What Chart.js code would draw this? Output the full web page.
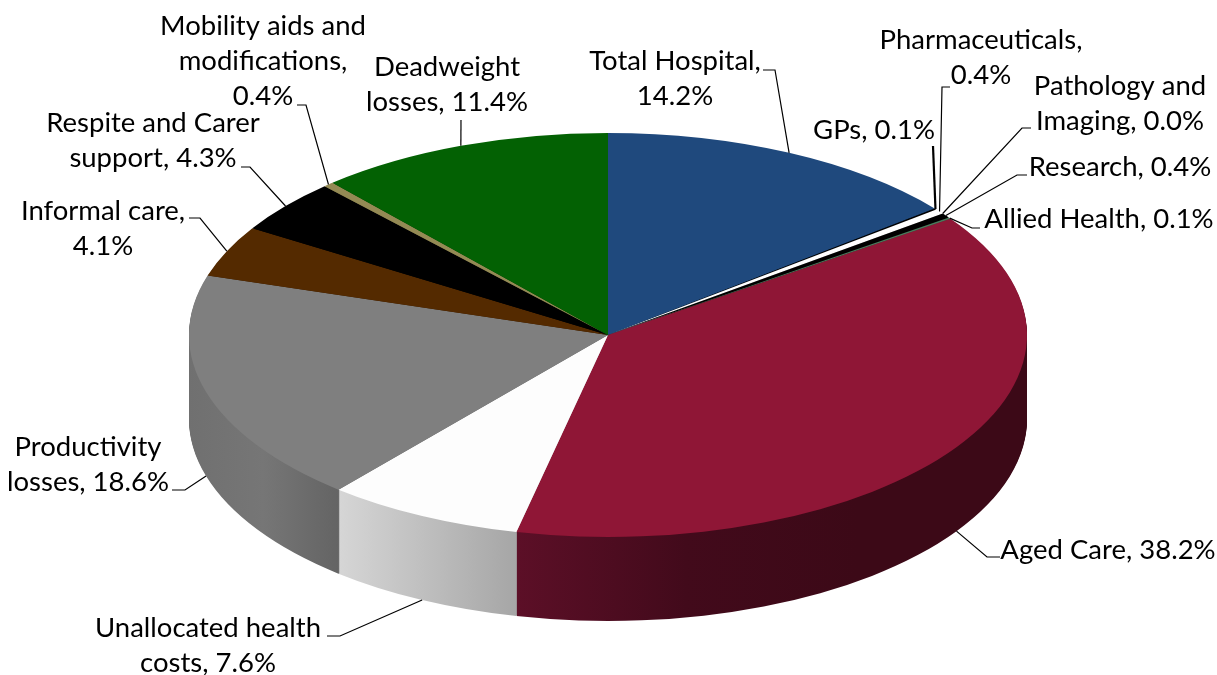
<!DOCTYPE html>
<html>
<head>
<meta charset="utf-8">
<style>
  html, body { margin: 0; padding: 0; background: #fff; }
  #wrap { width: 1217px; height: 675px; }
</style>
</head>
<body>
<div id="wrap"><canvas id="myChart" width="1217" height="675"></canvas></div>
<script src="https://cdn.jsdelivr.net/npm/chart.js@4"></script>
<script>
const categories = ['Total Hospital', 'GPs', 'Pharmaceuticals', 'Pathology and Imaging', 'Research',
  'Allied Health', 'Aged Care', 'Unallocated health costs', 'Productivity losses', 'Informal care',
  'Respite and Carer support', 'Mobility aids and modifications', 'Deadweight losses'];
const shares = [14.2, 0.1, 0.4, 0.0, 0.4, 0.1, 38.2, 7.6, 18.6, 4.1, 4.3, 0.4, 11.4];

const topColors = ['#1f497d', '#000000', '#ffffff', '#000000', '#000000', '#4a7a5c', '#8f1636',
  '#fdfdfd', '#7f7f7f', '#542a00', '#000000', '#948a54', '#036103'];
// side wall shading, left to right
const sideColors = [['#14304f'], ['#000000'], ['#cccccc'], ['#000000'], ['#000000'], ['#2f4f3a'],
  ['#5c0f27', '#420a1b', '#3c0917', '#3c0917'], ['#d6d6d6', '#a6a6a6'], ['#707070', '#767676', '#646464'],
  ['#331a00'], ['#000000'], ['#5e5735'], ['#023c02']];

// label text lines with their centre position and the leader line bend(s)
const labelLayout = [
  { lines: ['Total Hospital,', '14.2%'], x: 675, y: 61, leader: [[763, 70], [775, 70]] },
  { lines: ['GPs, 0.1%'], x: 874, y: 130, leader: [[933, 146]] },
  { lines: ['Pharmaceuticals,', '0.4%'], x: 981, y: 40, leader: [[950, 87], [942, 87]] },
  { lines: ['Pathology and', 'Imaging, 0.0%'], x: 1120, y: 86, leader: [[1031, 128], [1022, 128]] },
  { lines: ['Research, 0.4%'], x: 1120, y: 167, leader: [[1027, 175], [1017, 175]] },
  { lines: ['Allied Health, 0.1%'], x: 1099, y: 219, leader: [[980, 228], [972, 228]] },
  { lines: ['Aged Care, 38.2%'], x: 1108, y: 550, leader: [[1000, 557], [987, 557]] },
  { lines: ['Unallocated health', 'costs, 7.6%'], x: 208, y: 628, leader: [[327, 636], [340, 636]] },
  { lines: ['Productivity', 'losses, 18.6%'], x: 88, y: 447, leader: [[172, 490], [185, 490]] },
  { lines: ['Informal care,', '4.1%'], x: 103, y: 211, leader: [[189, 218], [200, 218]] },
  { lines: ['Respite and Carer', 'support, 4.3%'], x: 153, y: 123, leader: [[241, 167], [250, 167]] },
  { lines: ['Mobility aids and', 'modifications,', '0.4%'], x: 263, y: 26, leader: [[297, 105], [306, 105]] },
  { lines: ['Deadweight', 'losses, 11.4%'], x: 447, y: 67, leader: [[461, 120]] }
];

const SQUASH = 202 / 419;
const DEPTH = 84;
const FONT = '27.5px Lato';
const LINE_H = 35;

function squash(ctx, arc, dy) {
  ctx.translate(arc.x, arc.y + dy);
  ctx.scale(1, SQUASH);
  ctx.translate(-arc.x, -arc.y);
}

function sideFill(ctx, arc, stops) {
  if (stops.length === 1) return stops[0];
  const a0 = Math.max(arc.startAngle + Math.PI / 2, Math.PI / 2);
  const a1 = Math.min(arc.endAngle + Math.PI / 2, Math.PI * 1.5);
  const x0 = arc.x + arc.outerRadius * Math.sin(a0);
  const x1 = arc.x + arc.outerRadius * Math.sin(a1);
  const g = ctx.createLinearGradient(Math.min(x0, x1), 0, Math.max(x0, x1), 0);
  stops.forEach((c, i) => g.addColorStop(i / (stops.length - 1), c));
  return g;
}

const pie3d = {
  id: 'pie3d',
  beforeDatasetsDraw(chart) {
    const ctx = chart.ctx;
    const arcs = chart.getDatasetMeta(0).data;
    const ghosts = arcs.map((arc, i) => {
      const g = Object.create(arc);
      g.options = { ...arc.options, backgroundColor: sideFill(ctx, arc, sideColors[i]), borderWidth: 0 };
      return g;
    });
    for (let dy = DEPTH; dy > 0; dy--) {
      ctx.save();
      squash(ctx, arcs[0], dy);
      ghosts.forEach(g => g.draw(ctx));
      ctx.restore();
    }
    ctx.save();
    squash(ctx, arcs[0], 0);
  },
  afterDatasetsDraw(chart) {
    chart.ctx.restore();
  },
  afterDraw(chart) {
    const ctx = chart.ctx;
    const arcs = chart.getDatasetMeta(0).data;
    ctx.save();
    ctx.font = FONT;
    ctx.fillStyle = '#000';
    ctx.textAlign = 'center';
    ctx.textBaseline = 'middle';
    ctx.strokeStyle = '#000';
    labelLayout.forEach((lab, i) => {
      lab.lines.forEach((t, j) => ctx.fillText(t, lab.x, lab.y + j * LINE_H));
      // leader ends on the slice rim at its mid angle, lower half sits on the wall
      const arc = arcs[i];
      const mid = (arc.startAngle + arc.endAngle) / 2;
      const ex = arc.x + arc.outerRadius * Math.cos(mid);
      let ey = arc.y + arc.outerRadius * SQUASH * Math.sin(mid);
      if (Math.sin(mid) > 0) ey += DEPTH;
      ctx.lineWidth = i === 1 ? 2.2 : 1.2;
      ctx.beginPath();
      lab.leader.forEach((p, k) => k ? ctx.lineTo(p[0], p[1]) : ctx.moveTo(p[0], p[1]));
      ctx.lineTo(ex, ey);
      ctx.stroke();
    });
    ctx.restore();
  }
};

new Chart(document.getElementById('myChart'), {
  type: 'pie',
  data: {
    labels: categories,
    datasets: [{
      data: shares,
      backgroundColor: topColors,
      borderWidth: 0,
      clip: false
    }]
  },
  options: {
    responsive: false,
    animation: false,
    radius: 419,
    layout: { padding: { bottom: 5, right: 1 } },
    plugins: { legend: { display: false }, tooltip: { enabled: false } },
    events: []
  },
  plugins: [pie3d]
});
</script>
</body>
</html>
